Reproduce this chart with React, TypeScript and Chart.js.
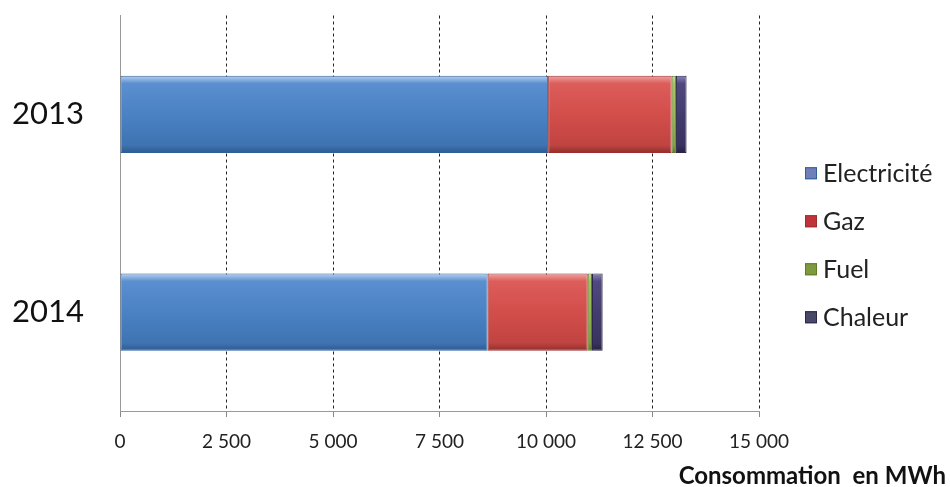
import React, { useEffect, useRef } from 'react';
import { Chart, registerables } from 'chart.js';

Chart.register(...registerables);

const categories = ['2013', '2014'];
const seriesNames = ['Electricité', 'Gaz', 'Fuel', 'Chaleur'];
const electricite = [10050, 8630];
const gaz = [2900, 2350];
const fuel = [100, 100];
const chaleur = [250, 250];
const xMin = 0;
const xMax = 15000;
const xStep = 2500;
const axisTitle = 'Consommation  en MWh';

const barShare = 0.39;
const fills = ['#4a82c4', '#d24e4b', '#93b54c', '#423c6e'];
const gradientStops = [
  ['#b7d1f0', '#5a8fd0', '#4a82c4', '#3f73b2', '#2d5a92'],
  ['#eea5a2', '#dc5d5a', '#d24e4b', '#c04441', '#8f2f2d'],
  ['#c8dd98', '#a2c25c', '#93b54c', '#7f9c3f', '#5c7526'],
  ['#8a85b5', '#4f4980', '#423c6e', '#38335e', '#26223f'],
];
const borders = ['#2f5f98', '#9a2f2c', '#5f7a28', '#2a254a'];
const legendFills = ['#6f7fb8', '#c0333a', '#7f9a3e', '#4a4868'];

const fmt = (v: number) => String(v).replace(/\B(?=(\d{3})+(?!\d))/g, ' ');

const barGradient = (i: number) => (c: any) => {
  const chart = c.chart;
  const ys = chart.scales && chart.scales.y;
  if (!ys || c.dataIndex === undefined || !chart.chartArea) return fills[i];
  const center = ys.getPixelForValue(c.dataIndex);
  const h = (ys.height / categories.length) * barShare;
  const g = chart.ctx.createLinearGradient(0, center - h / 2, 0, center + h / 2);
  const s = gradientStops[i];
  g.addColorStop(0, s[0]);
  g.addColorStop(0.1, s[1]);
  g.addColorStop(0.5, s[2]);
  g.addColorStop(0.9, s[3]);
  g.addColorStop(1, s[4]);
  return g;
};

const sideLegendAndTitle = {
  id: 'sideLegendAndTitle',
  afterDraw(chart: any) {
    const { ctx, chartArea } = chart;
    ctx.save();
    const spacing = 48;
    const box = 12;
    const midY = (chartArea.top + chartArea.bottom) / 2 + 32;
    const boxX = chartArea.right + 46;
    ctx.font = '25px Lato';
    ctx.textBaseline = 'middle';
    ctx.textAlign = 'left';
    const n = chart.data.datasets.length;
    chart.data.datasets.forEach((ds: any, i: number) => {
      const cy = midY + (i - (n - 1) / 2) * spacing;
      ctx.fillStyle = legendFills[i];
      ctx.fillRect(boxX, cy - box / 2, box, box);
      ctx.strokeStyle = borders[i];
      ctx.lineWidth = 1;
      ctx.strokeRect(boxX + 0.5, cy - box / 2 + 0.5, box - 1, box - 1);
      ctx.fillStyle = '#222';
      ctx.fillText(ds.label, boxX + box + 6, cy + 1);
    });
    ctx.font = 'bold 24px Lato';
    ctx.textAlign = 'right';
    ctx.fillStyle = '#111';
    ctx.fillText(axisTitle, chart.width - 4, chart.height - 11);
    ctx.restore();
  },
};

export default function App() {
  const ref = useRef<HTMLCanvasElement | null>(null);

  useEffect(() => {
    if (!ref.current) return;
    const values = [electricite, gaz, fuel, chaleur];
    const chart = new Chart(ref.current, {
      type: 'bar',
      data: {
        labels: categories,
        datasets: seriesNames.map((name, i) => ({
          label: name,
          data: values[i],
          backgroundColor: barGradient(i),
          borderColor: borders[i],
          borderWidth: 1,
          borderSkipped: false,
          barPercentage: barShare,
          categoryPercentage: 1,
        })),
      },
      options: {
        indexAxis: 'y',
        responsive: false,
        animation: false,
        layout: { padding: { top: 15, right: 191, left: 12, bottom: 0 } },
        plugins: {
          tooltip: { enabled: false },
          legend: { display: false },
          title: { display: false },
        },
        scales: {
          x: {
            type: 'linear',
            stacked: true,
            min: xMin,
            max: xMax,
            ticks: {
              stepSize: xStep,
              color: '#222',
              padding: 13,
              font: { family: 'Lato', size: 19 },
              callback: (v: any) => fmt(Number(v)),
            },
            grid: {
              color: (c: any) => (c.tick && c.tick.value === 0 ? 'rgba(0,0,0,0)' : '#222'),
              tickBorderDash: [],
              tickColor: '#888',
              tickLength: 6,
              lineWidth: 1,
            },
            border: { display: true, color: '#999', width: 1, dash: [3, 3] },
            afterFit: (s: any) => {
              s.height = 76;
            },
          },
          y: {
            type: 'category',
            stacked: true,
            ticks: {
              color: '#111',
              padding: 0,
              crossAlign: 'far',
              font: { family: 'Lato', size: 31, lineHeight: 1 },
            },
            grid: { display: false, drawTicks: false },
            border: { display: true, color: '#999', width: 1 },
            afterFit: (s: any) => {
              s.width = 108;
            },
          },
        },
      },
      plugins: [sideLegendAndTitle],
    });
    return () => chart.destroy();
  }, []);

  return (
    <div style={{ position: 'absolute', left: 0, top: 0, width: 950, height: 487, background: '#fff' }}>
      <canvas ref={ref} width={950} height={487} style={{ display: 'block' }} />
    </div>
  );
}
